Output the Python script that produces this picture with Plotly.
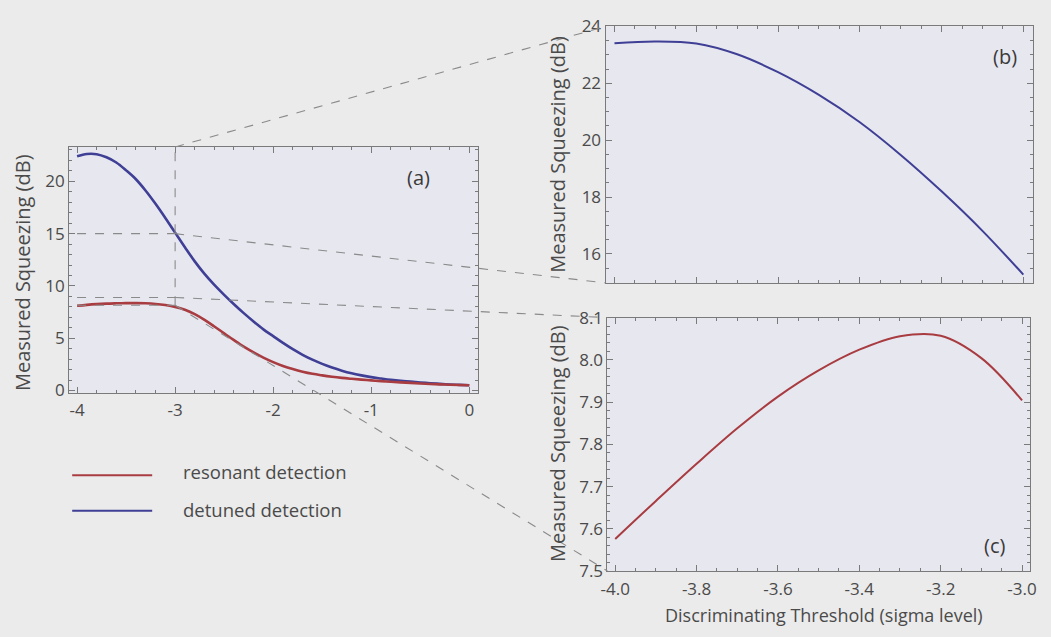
import plotly.graph_objects as go

# ---------------- data ----------------
# overview panel (a)
overview_x = [-4.0, -3.9, -3.8, -3.7, -3.6, -3.5, -3.4, -3.3, -3.2, -3.1, -3.0,
              -2.9, -2.8, -2.7, -2.6, -2.5, -2.4, -2.3, -2.2, -2.1, -2.0,
              -1.9, -1.8, -1.7, -1.6, -1.5, -1.4, -1.3, -1.2, -1.1, -1.0,
              -0.9, -0.8, -0.7, -0.6, -0.5, -0.4, -0.3, -0.2, -0.1, 0.0]
overview_resonant = [8.10, 8.19, 8.26, 8.31, 8.34, 8.36, 8.36, 8.34, 8.28, 8.17, 8.00,
                     7.72, 7.30, 6.75, 6.12, 5.47, 4.82, 4.20, 3.65, 3.15, 2.72,
                     2.35, 2.05, 1.80, 1.60, 1.45, 1.32, 1.21, 1.12, 1.04, 0.97,
                     0.90, 0.84, 0.78, 0.73, 0.68, 0.63, 0.59, 0.56, 0.53, 0.50]
overview_detuned = [22.40, 22.62, 22.60, 22.30, 21.80, 21.05, 20.20, 19.10, 17.85, 16.50, 15.10,
                    13.70, 12.35, 11.15, 10.10, 9.15, 8.25, 7.40, 6.60, 5.85, 5.20,
                    4.55, 3.95, 3.42, 2.95, 2.55, 2.20, 1.90, 1.65, 1.45, 1.28,
                    1.15, 1.03, 0.93, 0.85, 0.77, 0.70, 0.64, 0.58, 0.54, 0.50]

# zoomed panels (b) and (c)
zoom_x = [-4.0, -3.9, -3.8, -3.7, -3.6, -3.5, -3.4, -3.3, -3.2, -3.1, -3.0]
zoom_detuned = [23.41, 23.47, 23.40, 23.02, 22.39, 21.59, 20.63, 19.48, 18.20, 16.81, 15.27]
zoom_resonant = [7.576, 7.666, 7.754, 7.838, 7.913, 7.975, 8.024, 8.056, 8.057, 8.004, 7.904]

# tick labels
a_xtick_vals = [-4, -3, -2, -1, 0]
a_xtick_text = ["-4", "-3", "-2", "-1", "0"]
c_xtick_vals = [-4.0, -3.8, -3.6, -3.4, -3.2, -3.0]
c_xtick_text = ["-4.0", "-3.8", "-3.6", "-3.4", "-3.2", "-3.0"]

# zoom-box levels drawn in (a)
box_x = -3.0
box_levels = [15.0, 8.9, 8.15]

series_names = ["resonant detection", "detuned detection"]
x_title = "Discriminating Threshold (sigma level)"
y_title = "Measured Squeezing (dB)"

# ---------------- styles ----------------
W, H = 1051, 637
RED = "#a83c40"
BLUE = "#3f3f95"
PAPER = "#ebebeb"
PLOT = "#e7e7f0"
TXT = "#4a4a4a"
AX = "#7a7a7a"
DASH = "#8a8a8a"
FONT = "Open Sans"

A_X = [63 / W, 477 / W]; A_Y = [1 - 395 / H, 1 - 140 / H]
B_X = [606 / W, 1039 / W]; B_Y = [1 - 281 / H, 1 - 15 / H]
C_X = [608 / W, 1036 / W]; C_Y = [1 - 580 / H, 1 - 317 / H]
A_XR = [-4.08, 0.09]; A_YR = [-0.21, 23.29]
B_XR = [-4.022, -2.976]; B_YR = [14.98, 24.0]
C_XR = [-4.019, -2.98]; C_YR = [7.5, 8.1]


def to_paper(v, dom, rng):
    return dom[0] + (v - rng[0]) / (rng[1] - rng[0]) * (dom[1] - dom[0])


fig = go.Figure()
fig.add_trace(go.Scatter(x=overview_x, y=overview_detuned, mode="lines", line=dict(color=BLUE, width=2.6, shape="spline"),
                         xaxis="x", yaxis="y", showlegend=False))
fig.add_trace(go.Scatter(x=overview_x, y=overview_resonant, mode="lines", line=dict(color=RED, width=2.6, shape="spline"),
                         xaxis="x", yaxis="y", showlegend=False))
fig.add_trace(go.Scatter(x=zoom_x, y=zoom_detuned, mode="lines", line=dict(color=BLUE, width=2, shape="spline"),
                         xaxis="x2", yaxis="y2", showlegend=False))
fig.add_trace(go.Scatter(x=zoom_x, y=zoom_resonant, mode="lines", line=dict(color=RED, width=2, shape="spline"),
                         xaxis="x3", yaxis="y3", showlegend=False))


def axis(dom, rng, dtick, minor_dtick, tick0, anchor, showlabels=True, fmt=None, vals=None, text=None, standoff=None):
    d = dict(domain=dom, range=rng, dtick=dtick, tick0=tick0, anchor=anchor,
             showgrid=False, zeroline=False, showline=True, linecolor=AX, linewidth=1,
             mirror="allticks", ticks="inside", ticklen=6, tickcolor=AX, tickwidth=1,
             showticklabels=showlabels,
             tickfont=dict(family=FONT, size=17, color=TXT),
             minor=dict(ticks="inside", ticklen=3, dtick=minor_dtick, tick0=tick0, tickcolor=AX, showgrid=False))
    if fmt:
        d["tickformat"] = fmt
    if vals is not None:
        d["tickmode"] = "array"
        d["tickvals"] = vals
        d["ticktext"] = text
    if standoff is not None:
        d["ticklabelstandoff"] = standoff
    return d


fig.update_layout(
    width=W, height=H, margin=dict(l=0, r=0, t=0, b=0),
    paper_bgcolor=PAPER, plot_bgcolor=PLOT,
    showlegend=False,
    xaxis=axis(A_X, A_XR, 1, 0.2, -4, "y", vals=a_xtick_vals, text=a_xtick_text, standoff=2),
    yaxis=axis(A_Y, A_YR, 5, 1, 0, "x"),
    xaxis2=axis(B_X, B_XR, 0.2, 0.05, -4, "y2", showlabels=False),
    yaxis2=axis(B_Y, B_YR, 2, 0.5, 16, "x2"),
    xaxis3=axis(C_X, C_XR, 0.2, 0.05, -4, "y3", vals=c_xtick_vals, text=c_xtick_text, standoff=3),
    yaxis3=axis(C_Y, C_YR, 0.1, 0.02, 7.5, "x3", fmt=".1f"),
)

shapes = []
dash_line = dict(color=DASH, width=1.1, dash="dash")
# box inside (a)
for lv in box_levels:
    shapes.append(dict(type="line", xref="x", yref="y", x0=-4.0, x1=box_x, y0=lv, y1=lv, line=dash_line))
shapes.append(dict(type="line", xref="x", yref="y", x0=box_x, x1=box_x, y0=box_levels[2], y1=A_YR[1], line=dash_line))

# connectors from (a) to (b) and (c)
ax_p = to_paper(box_x, A_X, A_XR)
connectors = [
    (to_paper(A_YR[1], A_Y, A_YR), B_X[0], B_Y[1]),
    (to_paper(box_levels[0], A_Y, A_YR), B_X[0], B_Y[0]),
    (to_paper(box_levels[1], A_Y, A_YR), C_X[0], C_Y[1]),
    (to_paper(box_levels[2], A_Y, A_YR), C_X[0], C_Y[0]),
]
for y0, x1, y1 in connectors:
    shapes.append(dict(type="line", xref="paper", yref="paper", x0=ax_p, y0=y0, x1=x1, y1=y1, line=dash_line))

# legend samples
legend_y = [480.5 / H, 517.5 / H]
for yy, col in zip(legend_y, [RED, BLUE]):
    shapes.append(dict(type="line", xref="paper", yref="paper", x0=66 / W, x1=147 / W, y0=1 - yy, y1=1 - yy,
                       line=dict(color=col, width=2)))
fig.update_layout(shapes=shapes)

ann = []
for yy, name in zip([477 / H, 516 / H], series_names):
    ann.append(dict(text=name, x=176 / W, y=1 - yy, xref="paper", yref="paper", xanchor="left", yanchor="middle",
                    showarrow=False, font=dict(family=FONT, size=18.5, color=TXT)))
# panel letters
for lbl, px, py in [("(a)", 417, 172), ("(b)", 1010, 46), ("(c)", 1000, 553)]:
    ann.append(dict(text=lbl, x=px / W, y=1 - py / H, xref="paper", yref="paper", xanchor="center", yanchor="middle",
                    showarrow=False, font=dict(family=FONT, size=20, color="#3a3a3a")))
# axis titles
for px, py in [(15, 270), (558, 148), (558, 448)]:
    ann.append(dict(text=y_title, x=px / W, y=1 - py / H, xref="paper", yref="paper", textangle=-90,
                    xanchor="center", yanchor="middle", showarrow=False,
                    font=dict(family=FONT, size=20, color=TXT)))
ann.append(dict(text=x_title, x=827 / W, y=1 - 626 / H, xref="paper", yref="paper", xanchor="center", yanchor="middle",
                showarrow=False, font=dict(family=FONT, size=18, color=TXT)))
fig.update_layout(annotations=ann)

fig.write_html("out.html")
